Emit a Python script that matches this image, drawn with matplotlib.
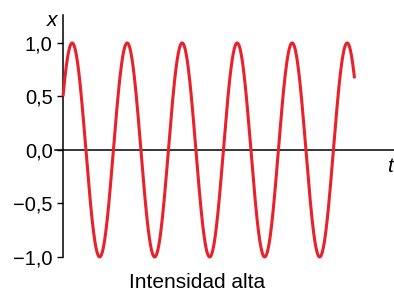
import numpy as np
import matplotlib.pyplot as plt

# curve: amplitude, period (time units), start value, duration
amplitude = 1.0
period = 1.0
start_value = 0.5
duration = 5.3

ytick_values = [-1.0, -0.5, 0.0, 0.5, 1.0]
ytick_labels = ["\u22121,0", "\u22120,5", "0,0", "0,5", "1,0"]
caption = "Intensidad alta"

plt.rcParams["font.family"] = ["Liberation Sans", "DejaVu Sans"]

fig = plt.figure(figsize=(3.94, 2.93), dpi=100)
ax = fig.add_axes([55 / 394, (293 - 265) / 293, 339 / 394, 255 / 293])

phase0 = np.arcsin(start_value / amplitude)
t = np.linspace(0, duration * period, 800)
x = amplitude * np.sin(2 * np.pi * t / period + phase0)
ax.plot(t, x, color="#e8212b", lw=2.2, solid_capstyle="butt", zorder=3)

ax.set_xlim(-8 / 55, 331 / 55)
ax.set_ylim(-1.075, 1.308)

for side in ["top", "right"]:
    ax.spines[side].set_visible(False)
ax.spines["left"].set_position(("data", 0))
ax.spines["left"].set_bounds(-1.0, 1.26)
ax.spines["bottom"].set_position(("data", 0))
ax.spines["bottom"].set_bounds(-8 / 55, 331 / 55)
for s in ["left", "bottom"]:
    ax.spines[s].set_linewidth(1.1)

ax.set_xticks([])
ax.set_yticks(ytick_values)
ax.set_yticklabels(ytick_labels, fontsize=14.5)
ax.tick_params(axis="y", direction="out", length=4.5, width=1.0, pad=3)

ax.text(-0.1, 1.21, "x", style="italic", fontsize=15, ha="right", va="center")
ax.text(331 / 55 - 0.03, -0.07, "t", style="italic", fontsize=15, ha="right", va="top")

fig.text(197 / 394, 1 - 288 / 293, caption, fontsize=15, ha="center", va="baseline")

fig.savefig("out.png", dpi=100)
